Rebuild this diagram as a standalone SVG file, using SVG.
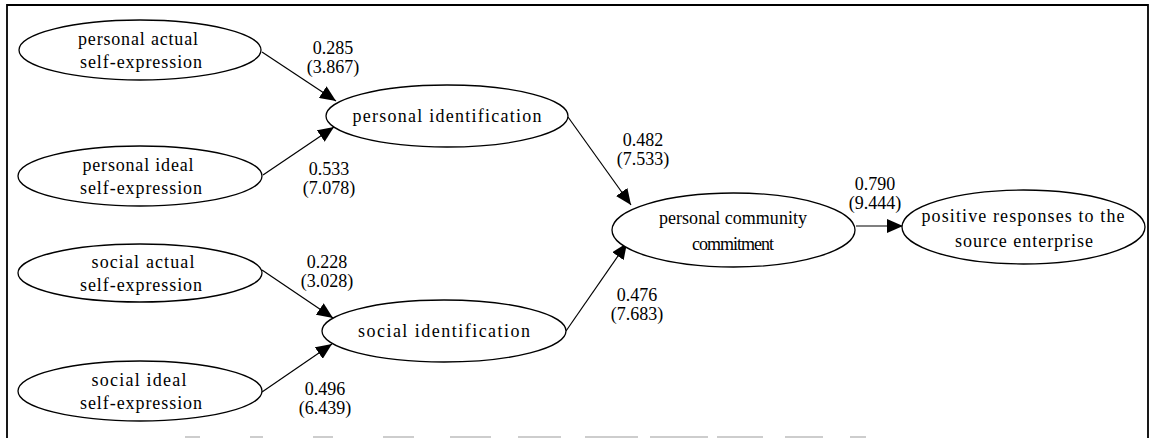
<svg xmlns="http://www.w3.org/2000/svg" width="1152" height="438" viewBox="0 0 1152 438">
<style>
.node ellipse{fill:#fff;stroke:#000;stroke-width:1.3}
.lbl{font-family:"Liberation Serif","DejaVu Serif",serif;font-size:18px;fill:#000;text-anchor:middle}
.num{font-family:"Liberation Serif","DejaVu Serif",serif;font-size:18px;fill:#000;text-anchor:middle}
.conn line{stroke:#000;stroke-width:1.2;marker-end:url(#arr)}
.frame{stroke:#000;stroke-width:1.8;fill:none}
.scan{stroke:#bdbdbd;stroke-width:1.5}
</style>
<defs>
<marker id="arr" markerUnits="userSpaceOnUse" markerWidth="16" markerHeight="14" viewBox="0 0 16 14" refX="16" refY="7" orient="auto">
<path d="M0,0 L16,7 L0,14 Z" fill="#000"/>
</marker>
</defs>
<rect width="1152" height="438" fill="#fff"/>
<g id="frame">
<path class="frame" d="M7,438 L7,5 L1148,5 L1148,438"/>
<g class="scan">
<line x1="185" y1="437" x2="200" y2="437"/>
<line x1="250" y1="437" x2="263" y2="437"/>
<line x1="313" y1="437" x2="333" y2="437"/>
<line x1="383" y1="437" x2="414" y2="437"/>
<line x1="450" y1="437" x2="491" y2="437"/>
<line x1="518" y1="437" x2="561" y2="437"/>
<line x1="585" y1="437" x2="638" y2="437"/>
<line x1="650" y1="437" x2="708" y2="437"/>
<line x1="717" y1="437" x2="763" y2="437"/>
<line x1="785" y1="437" x2="823" y2="437"/>
<line x1="850" y1="437" x2="866" y2="437"/>
</g>
</g>
<g id="connectors" class="conn">
<line x1="262" y1="52" x2="336" y2="101"/>
<line x1="263" y1="175" x2="334" y2="127"/>
<line x1="262" y1="270" x2="333" y2="318"/>
<line x1="262" y1="392" x2="332" y2="344"/>
<line x1="568" y1="117" x2="631" y2="205"/>
<line x1="566" y1="331" x2="627" y2="243"/>
<line x1="856" y1="226" x2="903" y2="226"/>
</g>
<g id="edge-labels">
<text class="num" x="333" y="54">0.285</text>
<text class="num" x="333" y="73">(3.867)</text>
<text class="num" x="329" y="175">0.533</text>
<text class="num" x="329" y="194">(7.078)</text>
<text class="num" x="327" y="268">0.228</text>
<text class="num" x="327" y="287">(3.028)</text>
<text class="num" x="325" y="395">0.496</text>
<text class="num" x="325" y="414">(6.439)</text>
<text class="num" x="643" y="146">0.482</text>
<text class="num" x="643" y="165">(7.533)</text>
<text class="num" x="637" y="301">0.476</text>
<text class="num" x="637" y="320">(7.683)</text>
<text class="num" x="875" y="190">0.790</text>
<text class="num" x="875" y="209">(9.444)</text>
</g>
<g id="personal-actual" class="node">
<ellipse cx="140" cy="50" rx="121" ry="30"/>
<text class="lbl" x="138" y="45" textLength="120" lengthAdjust="spacing">personal actual</text>
<text class="lbl" x="141" y="68" textLength="122" lengthAdjust="spacing">self-expression</text>
</g>
<g id="personal-ideal" class="node">
<ellipse cx="140" cy="176" rx="122" ry="30"/>
<text class="lbl" x="138" y="171" textLength="111" lengthAdjust="spacing">personal ideal</text>
<text class="lbl" x="141" y="194" textLength="122" lengthAdjust="spacing">self-expression</text>
</g>
<g id="social-actual" class="node">
<ellipse cx="140" cy="273" rx="122" ry="29"/>
<text class="lbl" x="143" y="268" textLength="103" lengthAdjust="spacing">social actual</text>
<text class="lbl" x="141" y="291" textLength="122" lengthAdjust="spacing">self-expression</text>
</g>
<g id="social-ideal" class="node">
<ellipse cx="140" cy="391" rx="122" ry="30"/>
<text class="lbl" x="139" y="386" textLength="95" lengthAdjust="spacing">social ideal</text>
<text class="lbl" x="141" y="409" textLength="122" lengthAdjust="spacing">self-expression</text>
</g>
<g id="personal-identification" class="node">
<ellipse cx="447" cy="116" rx="121" ry="31"/>
<text class="lbl" x="447" y="122" textLength="189" lengthAdjust="spacing">personal identification</text>
</g>
<g id="social-identification" class="node">
<ellipse cx="444" cy="331" rx="122" ry="31"/>
<text class="lbl" x="444" y="337" textLength="172" lengthAdjust="spacing">social identification</text>
</g>
<g id="personal-community-commitment" class="node">
<ellipse cx="733.5" cy="230" rx="121.5" ry="37"/>
<text class="lbl" x="733" y="224" textLength="148" lengthAdjust="spacing">personal community</text>
<text class="lbl" x="733" y="250" textLength="82" lengthAdjust="spacing">commitment</text>
</g>
<g id="positive-responses" class="node">
<ellipse cx="1023.5" cy="227" rx="121.5" ry="37"/>
<text class="lbl" x="1023" y="222" textLength="203" lengthAdjust="spacing">positive responses to the</text>
<text class="lbl" x="1024" y="247" textLength="138" lengthAdjust="spacing">source enterprise</text>
</g>
</svg>
